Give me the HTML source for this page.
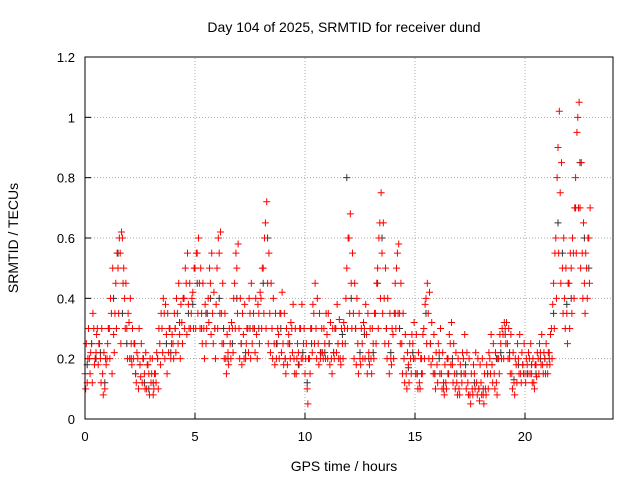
<!DOCTYPE html>
<html><head><meta charset="utf-8"><style>
body{margin:0;background:#fff}
svg{display:block;font-family:"Liberation Sans",sans-serif}
</style></head><body>
<svg id="chart" width="640" height="480" viewBox="0 0 640 480">
<rect x="0" y="0" width="640" height="480" fill="#fff"/>
<text x="344" y="32" font-size="14" text-anchor="middle">Day 104 of 2025, SRMTID for receiver dund</text>
<text x="344" y="471" font-size="14" text-anchor="middle">GPS time / hours</text>
<text transform="translate(18,238) rotate(-90)" font-size="14" text-anchor="middle">SRMTID / TECUs</text>
<g id="grid"></g><g id="ticks"></g><g id="marks"></g>
<rect x="85" y="57" width="528" height="362" fill="none" stroke="#000" stroke-width="1"/>
</svg>
<script>
const xTicks=[0,5,10,15,20];
const yTicks=[0,0.2,0.4,0.6,0.8,1,1.2];
const yTickLabels=["0","0.2","0.4","0.6","0.8","1","1.2"];
const step=0.1;
const redA=[0.15,0.12,0.2,0.25,0.3,0.22,0.18,0.2,0.15,0.1,
0.2,0.3,0.35,0.28,0.45,0.5,0.55,0.6,0.4,0.3,
0.32,0.25,0.2,0.15,0.2,0.18,0.12,0.15,0.1,0.15,
0.12,0.08,0.15,0.2,0.25,0.3,0.35,0.28,0.22,0.2,
0.25,0.3,0.35,0.28,0.32,0.4,0.45,0.38,0.3,0.42,
0.5,0.55,0.45,0.35,0.3,0.25,0.4,0.45,0.35,0.3,
0.5,0.55,0.35,0.25,0.2,0.22,0.25,0.3,0.45,0.5,
0.3,0.25,0.28,0.2,0.3,0.35,0.25,0.3,0.28,0.35,
0.4,0.5,0.65,0.45,0.35,0.3,0.25,0.2,0.28,0.35,
0.25,0.2,0.18,0.25,0.3,0.2,0.15,0.22,0.3,0.2,
0.15,0.1,0.2,0.3,0.35,0.3,0.25,0.2,0.22,0.25,
0.28,0.25,0.2,0.22,0.3,0.25,0.2,0.25,0.3,0.5,
0.6,0.45,0.35,0.3,0.25,0.2,0.25,0.3,0.28,0.22,
0.2,0.25,0.35,0.5,0.65,0.55,0.4,0.3,0.25,0.2,
0.28,0.45,0.55,0.35,0.25,0.2,0.15,0.18,0.2,0.25,
0.2,0.15,0.12,0.2,0.3,0.4,0.35,0.25,0.2,0.15,
0.18,0.22,0.15,0.1,0.12,0.2,0.25,0.18,0.15,0.12,
0.1,0.15,0.2,0.15,0.12,0.08,0.1,0.15,0.12,0.1,
0.12,0.08,0.1,0.15,0.2,0.18,0.15,0.12,0.2,0.25,
0.28,0.3,0.25,0.2,0.15,0.12,0.18,0.2,0.15,0.18,
0.15,0.18,0.2,0.15,0.12,0.18,0.2,0.22,0.18,0.2,
0.18,0.22,0.3,0.45,0.6,0.9,0.75,0.5,0.4,0.35,
0.45,0.5,0.55,0.8,1.0,0.7,0.55,0.45,0.5,0.6];
const redB=[0.1,0.2,0.15,0.12,0.18,0.28,0.25,0.12,0.08,0.2,
0.25,0.2,0.15,0.22,0.3,0.35,0.25,0.45,0.3,0.2,
0.2,0.18,0.25,0.12,0.1,0.14,0.2,0.1,0.18,0.08,
0.15,0.1,0.12,0.1,0.18,0.22,0.2,0.15,0.3,0.25,
0.2,0.22,0.25,0.2,0.25,0.3,0.28,0.3,0.35,0.3,
0.3,0.35,0.3,0.25,0.2,0.3,0.32,0.28,0.25,0.2,
0.3,0.35,0.25,0.2,0.15,0.18,0.2,0.22,0.3,0.35,
0.2,0.18,0.2,0.25,0.22,0.2,0.3,0.22,0.2,0.25,
0.3,0.35,0.3,0.25,0.22,0.2,0.18,0.25,0.2,0.22,
0.18,0.15,0.25,0.2,0.22,0.15,0.2,0.18,0.2,0.25,
0.2,0.05,0.15,0.22,0.25,0.2,0.18,0.22,0.2,0.2,
0.2,0.18,0.15,0.2,0.22,0.2,0.18,0.2,0.25,0.3,
0.35,0.3,0.2,0.18,0.15,0.18,0.2,0.2,0.15,0.18,
0.15,0.2,0.25,0.3,0.4,0.35,0.25,0.2,0.15,0.18,
0.2,0.3,0.35,0.25,0.15,0.12,0.1,0.12,0.15,0.2,
0.15,0.1,0.1,0.15,0.2,0.25,0.2,0.18,0.15,0.1,
0.12,0.15,0.1,0.08,0.1,0.15,0.18,0.12,0.1,0.08,
0.08,0.12,0.15,0.1,0.08,0.05,0.08,0.1,0.08,0.06,
0.08,0.05,0.08,0.1,0.15,0.12,0.1,0.08,0.15,0.2,
0.2,0.25,0.2,0.15,0.1,0.08,0.12,0.15,0.12,0.15,
0.12,0.15,0.15,0.12,0.1,0.14,0.15,0.18,0.15,0.15,
0.15,0.18,0.2,0.3,0.4,0.55,0.45,0.35,0.3,0.25,
0.3,0.35,0.4,0.55,0.7,0.5,0.4,0.35,0.4,0.45];
const redC=[0.25,0.3,0.22,0.35,0.2,0.3,0.25,0.3,0.22,0.18,
0.3,0.4,0.5,0.35,0.55,0.6,0.62,0.5,0.45,0.35,
0.4,0.3,0.25,0.22,0.3,0.25,0.2,0.22,0.18,0.2,
0.2,0.15,0.22,0.3,0.35,0.4,0.38,0.35,0.3,0.28,
0.35,0.4,0.45,0.38,0.4,0.5,0.55,0.45,0.4,0.5,
0.55,0.6,0.5,0.45,0.38,0.35,0.5,0.55,0.42,0.38,
0.6,0.62,0.45,0.35,0.28,0.3,0.32,0.4,0.55,0.58,
0.4,0.35,0.38,0.3,0.4,0.45,0.35,0.4,0.38,0.42,
0.5,0.6,0.72,0.55,0.45,0.4,0.35,0.3,0.35,0.42,
0.35,0.3,0.28,0.32,0.38,0.3,0.25,0.3,0.38,0.3,
0.25,0.2,0.3,0.38,0.45,0.4,0.35,0.3,0.3,0.35,
0.35,0.32,0.3,0.3,0.38,0.33,0.3,0.32,0.4,0.6,
0.68,0.55,0.45,0.4,0.35,0.3,0.32,0.38,0.35,0.3,
0.3,0.35,0.45,0.6,0.75,0.65,0.5,0.4,0.35,0.3,
0.35,0.5,0.58,0.45,0.35,0.28,0.22,0.25,0.28,0.32,
0.28,0.22,0.2,0.28,0.38,0.45,0.42,0.32,0.28,0.22,
0.25,0.3,0.22,0.18,0.2,0.28,0.32,0.25,0.22,0.2,
0.18,0.22,0.28,0.22,0.2,0.15,0.18,0.22,0.2,0.18,
0.2,0.15,0.18,0.22,0.28,0.25,0.22,0.2,0.28,0.3,
0.32,0.32,0.3,0.28,0.22,0.2,0.25,0.28,0.22,0.25,
0.2,0.22,0.25,0.2,0.18,0.22,0.25,0.28,0.22,0.25,
0.22,0.28,0.38,0.55,0.8,1.02,0.85,0.6,0.5,0.45,
0.55,0.6,0.7,0.95,1.05,0.85,0.65,0.55,0.6,0.7];
const blackStep=0.2;
const blackVals=[0.18,0.25,0.2,0.22,0.12,0.3,0.4,0.55,0.35,0.25,0.2,0.15,0.18,0.12,0.1,0.12,0.2,0.3,0.25,0.22,0.3,0.32,0.4,0.35,0.38,0.45,0.3,0.35,0.4,0.3,0.4,0.3,0.2,0.25,0.4,0.25,0.22,0.3,0.3,0.3,0.45,0.6,0.3,0.25,0.3,0.2,0.25,0.2,0.18,0.22,0.12,0.25,0.3,0.22,0.22,0.25,0.22,0.25,0.28,0.8,0.4,0.3,0.22,0.28,0.2,0.22,0.45,0.6,0.3,0.22,0.35,0.3,0.2,0.17,0.22,0.15,0.15,0.35,0.25,0.15,0.2,0.12,0.15,0.2,0.15,0.15,0.18,0.08,0.12,0.1,0.1,0.15,0.18,0.2,0.22,0.28,0.22,0.13,0.18,0.18,0.15,0.18,0.15,0.2,0.2,0.2,0.35,0.65,0.55,0.38,0.4,0.7,0.85,0.6,0.5];

const NS='http://www.w3.org/2000/svg';
const X0=85,X1=613,Y0=419,Y1=57,XMAX=24,YMAX=1.2;
const xs=v=>X0+(X1-X0)*v/XMAX;
const ys=v=>Y0-(Y0-Y1)*v/YMAX;
const grid=document.getElementById('grid'),ticks=document.getElementById('ticks'),marks=document.getElementById('marks');
function mk(tag,attrs,parent){const e=document.createElementNS(NS,tag);for(const k in attrs)e.setAttribute(k,attrs[k]);parent.appendChild(e);return e;}
xTicks.forEach(t=>{
  const x=xs(t);
  if(t>0){const g=mk('line',{x1:x,y1:Y0,x2:x,y2:Y1,stroke:'#aaa','stroke-dasharray':'1,2'},grid);
  
  }
  const l=mk('line',{x1:x,y1:Y0,x2:x,y2:Y0-6,stroke:'#000'},ticks);
  
  
  const tx=mk('text',{x:x,y:Y0+22,'font-size':13,'text-anchor':'middle'},ticks);tx.textContent=String(t);
  
  
});
yTicks.forEach((t,i)=>{
  const y=ys(t);
  if(t>0&&t<YMAX){const g=mk('line',{x1:X0,y1:y,x2:X1,y2:y,stroke:'#aaa','stroke-dasharray':'1,2'},grid);
  
  }
  const l=mk('line',{x1:X0,y1:y,x2:X0+6,y2:y,stroke:'#000'},ticks);
  
  
  const tx=mk('text',{x:X0-10,y:y+5,'font-size':13,'text-anchor':'end'},ticks);tx.textContent=yTickLabels[i];
  
  
});
function plus(t,v,color,name){
  const x=xs(t),y=ys(v);
  const p=mk('path',{d:`M${x-3.5},${y}H${x+3.5}M${x},${y-3.5}V${y+3.5}`,stroke:color,'stroke-width':1,fill:'none'},marks);
  
  
}
blackVals.forEach((v,i)=>plus(i*blackStep+0.1,v,'#333','black-point'));
redA.forEach((v,i)=>plus(i*step,v,'#f00','red-point'));
redB.forEach((v,i)=>plus(i*step+0.03,v,'#f00','red-point'));
redC.forEach((v,i)=>plus(i*step+0.06,v,'#f00','red-point'));
</script>
</body></html>
